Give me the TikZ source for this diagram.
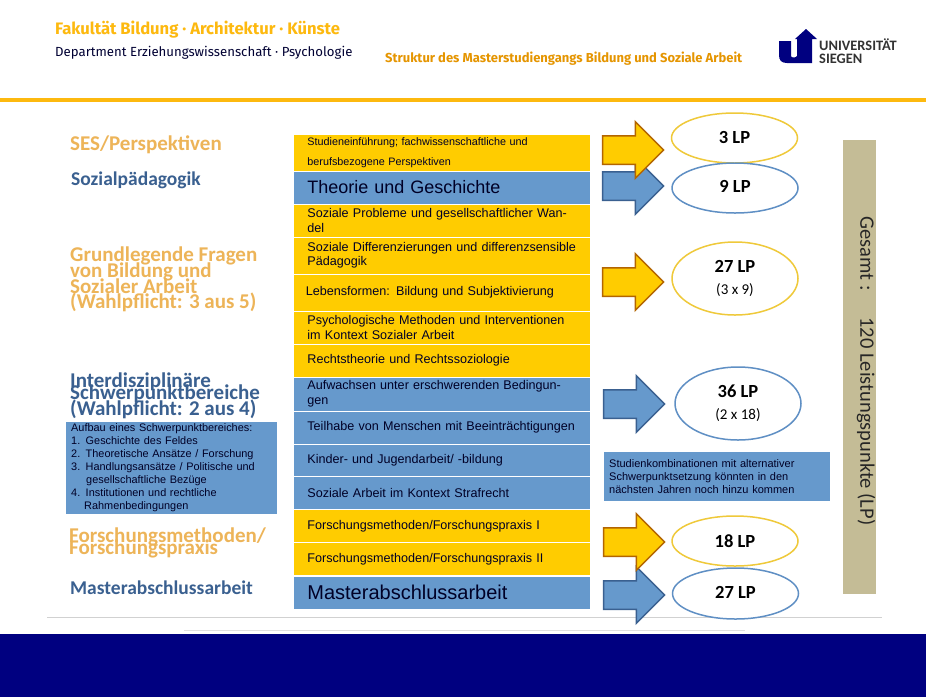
\documentclass[tikz,border=0pt]{standalone}
\usepackage{fontspec}
\setmainfont{Liberation Sans}
\newfontfamily\headfont{Carlito}
\newfontfamily\topfont{Fira Sans}
\usetikzlibrary{shapes.geometric,shapes.arrows}

\definecolor{unigold}{HTML}{FDB90F}
\definecolor{uninavy}{HTML}{000080}
\definecolor{rowyellow}{HTML}{FFCC00}
\definecolor{rowblue}{HTML}{6699CC}
\definecolor{headyellow}{HTML}{EDB458}
\definecolor{headblue}{HTML}{3A6090}
\definecolor{ringyellow}{HTML}{EFC93A}
\definecolor{ringblue}{HTML}{5F8FC4}
\definecolor{totalbox}{HTML}{C4BC96}

\newcommand{\fs}[2]{\fontsize{#1}{#2}\selectfont\lineskiplimit=-100pt\relax}

\tikzset{
	rowbox/.style={draw=white,line width=0.8pt,anchor=north west,minimum width=297pt,inner xsep=14pt,inner ysep=0pt,text width=269pt,align=left,text=black!85!blue},
	yrow/.style={rowbox,fill=rowyellow},
	brow/.style={rowbox,fill=rowblue},
	blockarrow/.style={shape=single arrow,single arrow head extend=14pt,minimum height=61pt,inner sep=0pt,text height=27pt,text depth=0pt,text width=0pt,line width=1.5pt},
	yarrow/.style={blockarrow,fill=rowyellow,draw=black!35!orange!85!rowyellow},
	barrow/.style={blockarrow,fill=rowblue,draw=headblue},
	ring/.style={shape=ellipse,draw,line width=1.5pt,fill=white,inner sep=0pt,minimum width=126pt,align=center,text=black,font=\headfont},
	yring/.style={ring,draw=ringyellow},
	bring/.style={ring,draw=ringblue},
	heading/.style={anchor=north west,inner sep=0pt,align=left,font=\headfont\bfseries\fs{21}{15.6}},
	noteblock/.style={draw=white,fill=rowblue,anchor=north west,inner sep=0pt,align=left,text=black!85!blue}
}

\begin{document}
\begin{tikzpicture}[x=1pt,y=-1pt]
	\useasboundingbox (0,0) rectangle (926,697);
	\fill [white] (0,0) rectangle (926,697);

	\fill [unigold] (0,98) rectangle (926,102);
	\fill [uninavy] (0,634) rectangle (926,697);
	\draw [black!18,line width=0.8pt] (47,617) -- (882,617);
	\draw [black!12,line width=0.8pt] (184,630) -- (745,630);

	\node [anchor=west,inner sep=0pt,text=unigold,font=\topfont\bfseries\fs{16.6}{18}] (faculty) at (55,30) {Fakultät Bildung · Architektur · Künste};
	\node [anchor=west,inner sep=0pt,text=black!80!blue,font=\topfont\fs{13.2}{15}] (department) at (55,53) {Department Erziehungswissenschaft · Psychologie};
	\node [anchor=west,inner sep=0pt,text=orange!70!yellow!90!black,font=\topfont\bfseries\fs{13}{15}] (title) at (385,59) {Struktur des Masterstudiengangs Bildung und Soziale Arbeit};

	\fill [uninavy] (779,41) -- (791,41) -- (791,56) .. controls (791,58) and (796,58) .. (797,56) -- (797,39) -- (795,39) -- (806,29) -- (817,39) -- (812,39) -- (812,63) -- (787,63) .. controls (781,63) and (779,60) .. (779,55) -- cycle;
	\node [anchor=north west,inner sep=0pt,align=left,text=black!80,font=\headfont\bfseries\fs{14.4}{12.4}] (logotext) at (819,39) {UNIVERSITÄT\\SIEGEN};

	\node [heading,text=headyellow] (sesHead) at (70,136) {SES/Perspektiven};
	\node [heading,text=headblue,font=\headfont\bfseries\fs{19.5}{15.6}] (sozHead) at (71,172) {Sozialpädagogik};
	\node [heading,text=headyellow] (fragenHead) at (70,247) {Grundlegende Fragen\\von Bildung und\\Sozialer Arbeit\\(Wahlpflicht: 3 aus 5)};
	\node [heading,text=headblue] (schwerHead) at (70,373) {Interdisziplinäre\\[-3.9pt]Schwerpunktbereiche\\(Wahlpflicht: 2 aus 4)};
	\node [heading,text=headyellow,font=\headfont\bfseries\fs{21}{12}] (methodHead) at (69,528) {Forschungsmethoden/\\Forschungspraxis};
	\node [heading,text=headblue,font=\headfont\bfseries\fs{19.5}{15.6}] (masterHead) at (70,581) {Masterabschlussarbeit};

	\node [noteblock,minimum width=212pt,minimum height=93pt,inner xsep=6pt,text width=200pt,font=\fs{10.9}{13}] (aufbau) at (65,421) {Aufbau eines Schwerpunktbereiches:\\1. Geschichte des Feldes\\2. Theoretische Ansätze / Forschung\\3. Handlungsansätze / Politische und\\\hspace*{15pt}gesellschaftliche Bezüge\\4. Institutionen und rechtliche\\\hspace*{13pt}Rahmenbedingungen};

	\node [yrow,minimum height=37pt,font=\fs{10.8}{20}] (rowA) at (293,134) {Studieneinführung; fachwissenschaftliche und\\berufsbezogene Perspektiven};
	\node [brow,minimum height=33pt,font=\fs{18}{20}] (rowB) at (293,170.5) {Theorie und Geschichte};
	\node [yrow,minimum height=33pt,font=\fs{12.6}{14.5}] (rowC) at (293,203.5) {Soziale Probleme und gesellschaftlicher Wandel};
	\node [yrow,minimum height=37pt,font=\fs{12.6}{14.5}] (rowD) at (293,236.5) {Soziale Differenzierungen und differenzsensible\\Pädagogik};
	\node [yrow,minimum height=37pt,font=\fs{12.6}{14.5}] (rowE) at (293,273.5) {\hspace*{-1.5pt}Lebensformen: Bildung und Subjektivierung};
	\node [yrow,minimum height=33pt,font=\fs{12.6}{14.5}] (rowF) at (293,310.5) {Psychologische Methoden und Interventionen\\im Kontext Sozialer Arbeit};
	\node [yrow,minimum height=33pt,font=\fs{12.6}{14.5}] (rowG) at (293,343.5) {Rechtstheorie und Rechtssoziologie};
	\node [brow,minimum height=34pt,font=\fs{12.6}{14.5}] (rowH) at (293,376.5) {Aufwachsen unter erschwerenden Bedingungen};
	\node [brow,minimum height=33pt,font=\fs{12.6}{14.5}] (rowI) at (293,410.5) {Teilhabe von Menschen mit Beeinträchtigungen};
	\node [brow,minimum height=33pt,font=\fs{12.6}{14.5}] (rowJ) at (293,443.5) {Kinder- und Jugendarbeit/ -bildung};
	\node [brow,minimum height=33pt,font=\fs{12.6}{14.5}] (rowK) at (293,476) {Soziale Arbeit im Kontext Strafrecht};
	\node [yrow,minimum height=33pt,font=\fs{12.6}{14.5}] (rowL) at (293,509) {Forschungsmethoden/Forschungspraxis I};
	\node [yrow,minimum height=33pt,font=\fs{12.6}{14.5}] (rowM) at (293,542) {Forschungsmethoden/Forschungspraxis II};
	\node [brow,minimum height=33pt,font=\fs{20}{22}] (rowN) at (293,575.5) {Masterabschlussarbeit};

	\node [barrow] (arrowB) at (626,186) {};
	\node [yarrow] (arrowA) at (626,150) {};
	\node [yarrow] (arrowD) at (626,282) {};
	\node [barrow] (arrowH) at (627,404) {};
	\node [barrow] (arrowN) at (627,595) {};
	\node [yarrow] (arrowL) at (627,542) {};

	\node [yring,minimum height=50pt,font=\headfont\bfseries\fs{18.5}{20}] (ringA) at (734.5,138) {\raisebox{2pt}{3 LP}};
	\node [bring,minimum height=50pt,font=\headfont\bfseries\fs{18.5}{20}] (ringB) at (735,188) {\raisebox{3pt}{9 LP}};
	\node [yring,minimum height=73pt,font=\headfont\fs{15}{22}] (ringD) at (735,278.5) {{\bfseries\fs{18.5}{22}27 LP}\\(3 x 9)};
	\node [bring,minimum height=73pt,font=\headfont\fs{15}{22}] (ringH) at (738,403.5) {{\bfseries\fs{18.5}{22}36 LP}\\(2 x 18)};
	\node [yring,minimum height=50pt,font=\headfont\bfseries\fs{18.5}{20}] (ringL) at (735,541) {18 LP};
	\node [bring,minimum height=51pt,font=\headfont\bfseries\fs{18.5}{20}] (ringN) at (735.5,593.5) {\raisebox{3pt}{27 LP}};

	\node [noteblock,minimum width=227pt,minimum height=50pt,inner xsep=6pt,text width=215pt,font=\fs{11}{13}] (kombi) at (603,451) {Studienkombinationen mit alternativer\\Schwerpunktsetzung könnten in den\\nächsten Jahren noch hinzu kommen};

	\node [fill=totalbox,anchor=north west,minimum width=33pt,minimum height=454pt,inner sep=0pt] (total) at (843,140) {};
	\node [rotate=-90,inner sep=0pt,text=black!85,font=\headfont\fs{20.5}{22}] (totalText) at (866,371) {Gesamt :\hspace{1em} 120 Leistungspunkte (LP)};
\end{tikzpicture}
\end{document}
